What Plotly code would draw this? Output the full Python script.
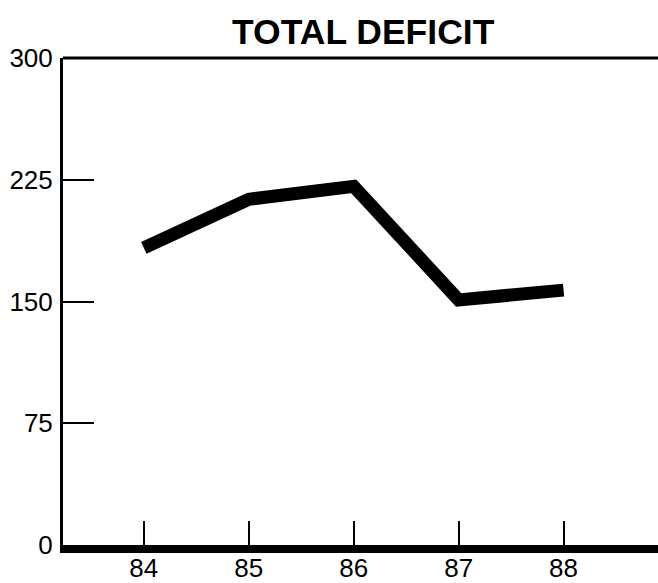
import plotly.graph_objects as go

# Fiscal years and total deficit (billions of dollars)
years = [84, 85, 86, 87, 88]
deficit = [183, 213, 221, 151, 157]

y_ticks = [0, 75, 150, 225, 300]
x_ticks = [84, 85, 86, 87, 88]

FONT = "Liberation Sans, Arial, Helvetica, sans-serif"

fig = go.Figure()
fig.add_trace(go.Scatter(
    x=years, y=deficit, mode="lines",
    line=dict(color="black", width=13),
    hoverinfo="skip", showlegend=False,
))

fig.update_layout(
    width=658, height=583,
    margin=dict(l=63, r=0, t=58, b=38, autoexpand=False),
    paper_bgcolor="white", plot_bgcolor="white",
    title=dict(
        text="<b>TOTAL DEFICIT</b>",
        font=dict(family=FONT, size=35.5, color="black"),
        x=0.552, xanchor="center", xref="container",
        y=1 - 32 / 583, yanchor="middle", yref="container",
    ),
    font=dict(family=FONT, color="black"),
)

fig.update_xaxes(
    range=[83.23, 88.9],
    tickmode="array", tickvals=x_ticks, ticktext=[str(v) for v in x_ticks],
    ticks="inside", ticklen=24, tickwidth=2, tickcolor="black",
    showline=True, linewidth=8, linecolor="black",
    showgrid=False, zeroline=False, automargin=False,
    tickfont=dict(size=26, family=FONT, color="black"),
    ticklabelstandoff=-7,
)
fig.update_yaxes(
    range=[0, 300],
    tickmode="array", tickvals=y_ticks, ticktext=[str(v) for v in y_ticks],
    ticks="inside", ticklen=31, tickwidth=1.5, tickcolor="black",
    showline=True, linewidth=3, linecolor="black",
    showgrid=False, zeroline=False, automargin=False,
    tickfont=dict(size=26, family=FONT, color="black"),
    ticklabelstandoff=2,
)

# Top border of the frame
fig.add_shape(type="line", xref="paper", yref="paper",
              x0=0, x1=1, y0=1, y1=1,
              line=dict(color="black", width=3), layer="above")

fig.write_html("out.html")
